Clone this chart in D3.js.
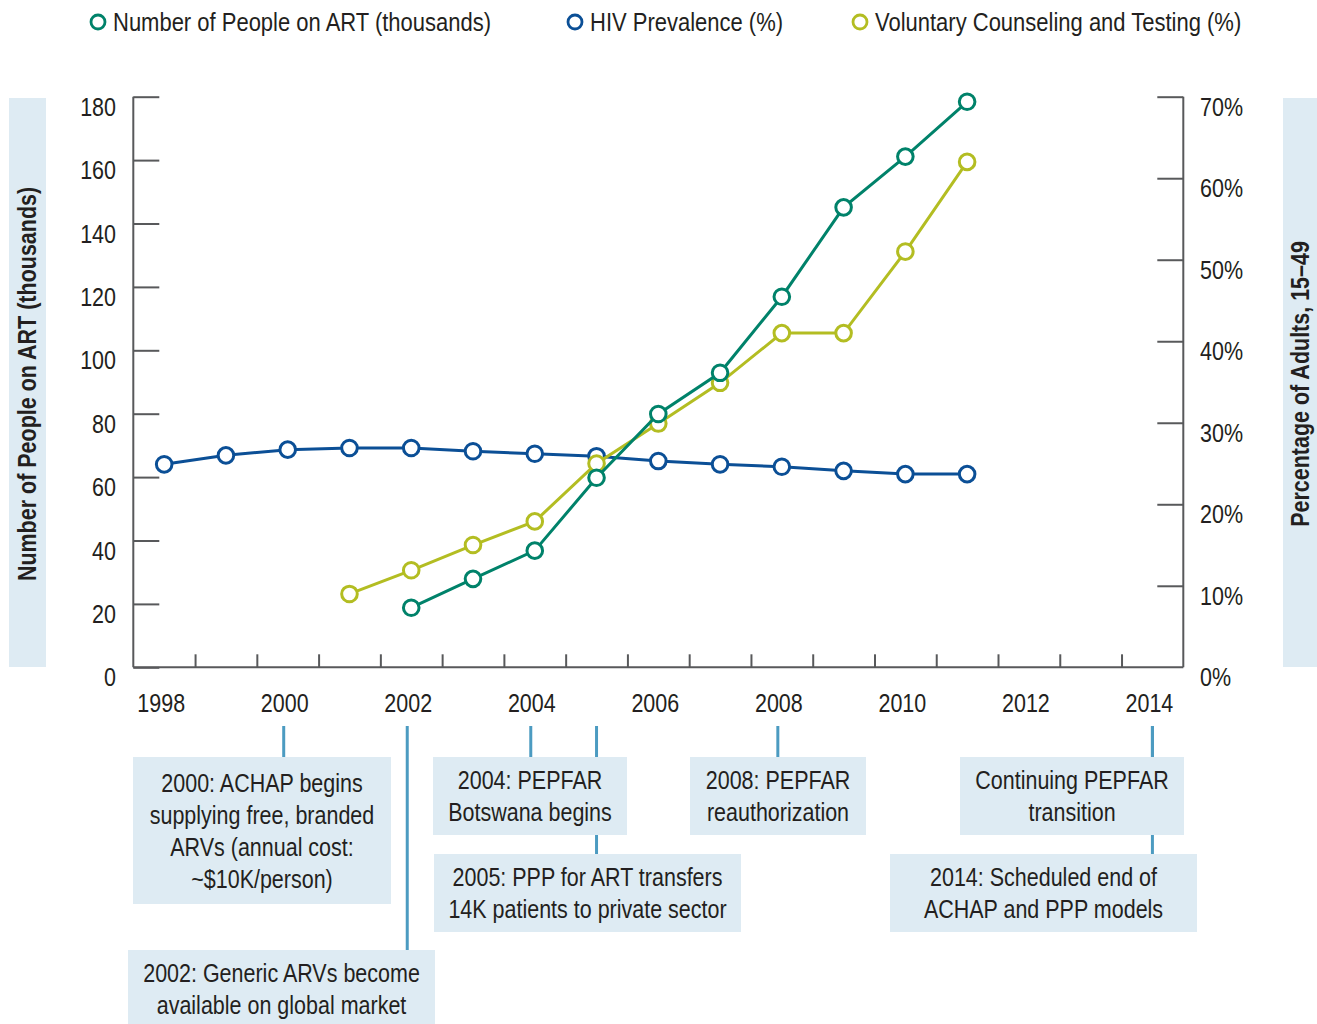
<!DOCTYPE html>
<meta charset="utf-8">
<html>
<head>
<title>Botswana ART, HIV prevalence and VCT</title>
<script src="https://d3js.org/d3.v7.min.js"></script>
<style type="text/css">
body { margin: 0; background: #fff; }
svg text {
  font-family: "Liberation Sans", Arial, sans-serif;
  font-size: 25px;
  fill: #231f20;
}
.axis-title { font-weight: bold; }
</style>
</head>
<body>
<div id="chart"></div>
<script type="text/javascript">

// years on the axis and the data years
var axisYears = [1998, 2000, 2002, 2004, 2006, 2008, 2010, 2012, 2014];
var dataYears = [1998, 1999, 2000, 2001, 2002, 2003, 2004, 2005, 2006, 2007, 2008, 2009, 2010, 2011];

// Number of people on ART (thousands), left axis; null = no data
var artValues = [null, null, null, null, 18.8, 27.9, 36.8, 59.8, 79.9, 92.9, 116.9, 145.1, 161.1, 178.4];
// HIV prevalence (%), right axis
var hivValues = [24.9, 26.0, 26.7, 26.9, 26.9, 26.5, 26.2, 25.9, 25.3, 24.9, 24.6, 24.1, 23.7, 23.7];
// Voluntary counseling and testing (%), right axis
var vctValues = [null, null, null, 9.0, 11.9, 15.0, 17.9, 25.0, 29.9, 34.9, 41.0, 41.0, 51.0, 62.0];

var leftTicks = [0, 20, 40, 60, 80, 100, 120, 140, 160, 180];
var rightTicks = [0, 10, 20, 30, 40, 50, 60, 70];

var seriesNames = ["Number of People on ART (thousands)", "HIV Prevalence (%)", "Voluntary Counseling and Testing (%)"];

// timeline notes under the axis
var noteYears = [2000, 2002, 2004, 2005, 2008, 2014, 2014];
var noteTexts = [
  ["2000: ACHAP begins", "supplying free, branded", "ARVs (annual cost:", "~$10K/person)"],
  ["2002: Generic ARVs become", "available on global market"],
  ["2004: PEPFAR", "Botswana begins"],
  ["2005: PPP for ART transfers", "14K patients to private sector"],
  ["2008: PEPFAR", "reauthorization"],
  ["Continuing PEPFAR", "transition"],
  ["2014: Scheduled end of", "ACHAP and PPP models"]
];

// layout of the note boxes (pixels): left, right, row
var noteBoxes = [
  {x0: 133, x1: 391, row: 0, h: 147},
  {x0: 128, x1: 435, row: 2, h: 74},
  {x0: 433, x1: 627, row: 0, h: 78},
  {x0: 434, x1: 741, row: 1, h: 78},
  {x0: 690, x1: 866, row: 0, h: 78},
  {x0: 960, x1: 1184, row: 0, h: 78},
  {x0: 890, x1: 1197, row: 1, h: 78}
];
var rowTop = [757, 854, 950];

var colors = {art: "#00826a", hiv: "#0b4f96", vct: "#b3bd22"};
var boxFill = "#deebf3";
var connColor = "#4c9bc1";
var axisColor = "#58595b";
var squeeze = 0.86;   // the original type is a condensed face

var W = 1317, H = 1024;
var plot = {left: 133.3, right: 1183.3, top: 96.7, bottom: 667.3};

var svg = d3.select("#chart").append("svg")
  .attr("width", W)
  .attr("height", H);

// place a text with the condensed look
function place(sel, fx, fy, rot, sq) {
  var s = sq || squeeze;
  sel.attr("transform", function(d, i) {
    return "translate(" + fx(d, i) + "," + fy(d, i) + ")" + (rot ? " rotate(" + rot + ")" : "") + " scale(" + s + ",1)";
  });
  return sel;
}

var x = d3.scaleLinear().domain([1997.5, 2014.5]).range([plot.left, plot.right]);
var yLeft = d3.scaleLinear().domain([0, 180]).range([plot.bottom, plot.top]);
var yRight = d3.scaleLinear().domain([0, 70]).range([plot.bottom, plot.top]);

// axis title backgrounds
svg.append("rect").attr("x", 9).attr("y", 98).attr("width", 37).attr("height", 569).attr("fill", boxFill);
svg.append("rect").attr("x", 1283).attr("y", 98).attr("width", 34).attr("height", 569).attr("fill", boxFill);

place(svg.append("text")
  .attr("class", "axis-title")
  .attr("text-anchor", "middle")
  .text("Number of People on ART (thousands)"),
  function() { return 36; }, function() { return 384; }, -90);

place(svg.append("text")
  .attr("class", "axis-title")
  .attr("text-anchor", "middle")
  .text("Percentage of Adults, 15\u201349"),
  function() { return 1309; }, function() { return 384; }, -90);

// axes
var gLeft = svg.append("g")
  .attr("transform", "translate(" + plot.left + ",0)")
  .call(d3.axisRight(yLeft).tickValues(leftTicks).tickSize(26).tickFormat(""));
var gRight = svg.append("g")
  .attr("transform", "translate(" + plot.right + ",0)")
  .call(d3.axisLeft(yRight).tickValues(rightTicks.filter(function(d) { return d > 0; })).tickSize(26).tickFormat(""));

// x ticks sit between years
var betweenYears = d3.range(1998.5, 2014, 1);
var gBottom = svg.append("g")
  .attr("transform", "translate(0," + plot.bottom + ")")
  .call(d3.axisTop(x).tickValues(betweenYears).tickSize(13).tickFormat(""));

[gLeft, gRight, gBottom].forEach(function(g) {
  g.select(".domain").attr("stroke", axisColor).attr("stroke-width", 2);
  g.selectAll(".tick line").attr("stroke", axisColor).attr("stroke-width", 2);
});
gLeft.select(".domain").attr("d", "M0," + plot.top + "V" + plot.bottom);
gRight.select(".domain").attr("d", "M0," + plot.top + "V" + plot.bottom);
gBottom.select(".domain").attr("d", "M" + plot.left + ",0H" + plot.right);

// tick labels
place(svg.append("g").selectAll("text")
  .data(leftTicks)
  .join("text")
  .attr("text-anchor", "end")
  .text(function(d) { return d; }),
  function() { return 116; }, function(d) { return yLeft(d) + 19; });

place(svg.append("g").selectAll("text")
  .data(rightTicks)
  .join("text")
  .text(function(d) { return d + "%"; }),
  function() { return 1200; }, function(d) { return yRight(d) + 19; });

place(svg.append("g").selectAll("text")
  .data(axisYears)
  .join("text")
  .attr("text-anchor", "middle")
  .text(function(d) { return d; }),
  function(d) { return x(d) - 3; }, function() { return 712; });

// series
function makeSeries(values, yScale) {
  return dataYears.map(function(yr, i) { return {year: yr, value: values[i]}; })
    .filter(function(d) { return d.value != null; })
    .map(function(d) { return {year: d.year, value: d.value, y: yScale(d.value)}; });
}

// drawn bottom to top as in the original
var series = [
  {key: "hiv", pts: makeSeries(hivValues, yRight)},
  {key: "vct", pts: makeSeries(vctValues, yRight)},
  {key: "art", pts: makeSeries(artValues, yLeft)}
];

var line = d3.line().x(function(d) { return x(d.year); }).y(function(d) { return d.y; });

series.forEach(function(s) {
  var g = svg.append("g");
  g.append("path")
    .datum(s.pts)
    .attr("d", line)
    .attr("fill", "none")
    .attr("stroke", colors[s.key])
    .attr("stroke-width", 3);
  g.selectAll("circle")
    .data(s.pts)
    .join("circle")
    .attr("cx", function(d) { return x(d.year); })
    .attr("cy", function(d) { return d.y; })
    .attr("r", 7.8)
    .attr("fill", "#fff")
    .attr("stroke", colors[s.key])
    .attr("stroke-width", 3);
});

// legend
var legendKeys = ["art", "hiv", "vct"];
var legendX = [98, 575, 860];
var legend = svg.append("g").selectAll("g")
  .data(legendKeys)
  .join("g")
  .attr("transform", function(d, i) { return "translate(" + legendX[i] + ",22)"; });
legend.append("circle")
  .attr("r", 7)
  .attr("fill", "#fff")
  .attr("stroke", function(d) { return colors[d]; })
  .attr("stroke-width", 2.8);
place(legend.append("text")
  .text(function(d, i) { return seriesNames[i]; }),
  function() { return 15; }, function() { return 9; }, 0, 0.88);

// timeline notes: connectors first, then boxes over them
var notes = noteYears.map(function(yr, i) {
  var b = noteBoxes[i];
  return {year: yr, lines: noteTexts[i], x0: b.x0, x1: b.x1, top: rowTop[b.row], h: b.h};
});

function connX(d) { return d.year === 2005 || d.year === 2014 ? x(d.year) : x(d.year) - 4; }

svg.append("g").selectAll("line")
  .data(notes)
  .join("line")
  .attr("x1", connX)
  .attr("x2", connX)
  .attr("y1", 726)
  .attr("y2", function(d) { return d.top; })
  .attr("stroke", connColor)
  .attr("stroke-width", 3);

var noteG = svg.append("g").selectAll("g")
  .data(notes)
  .join("g");
noteG.append("rect")
  .attr("x", function(d) { return d.x0; })
  .attr("y", function(d) { return d.top; })
  .attr("width", function(d) { return d.x1 - d.x0; })
  .attr("height", function(d) { return d.h; })
  .attr("fill", boxFill);
noteG.each(function(d) {
  var cx = (d.x0 + d.x1) / 2;
  var cy = d.top + (d.lines.length === 4 ? 147 : 78) / 2;
  var first = cy - (d.lines.length - 1) * 16;
  place(d3.select(this).selectAll("text")
    .data(d.lines)
    .join("text")
    .attr("text-anchor", "middle")
    .text(function(t) { return t; }),
    function() { return cx; }, function(t, i) { return first + i * 32 + 9; });
});

</script>
</body>
</html>
